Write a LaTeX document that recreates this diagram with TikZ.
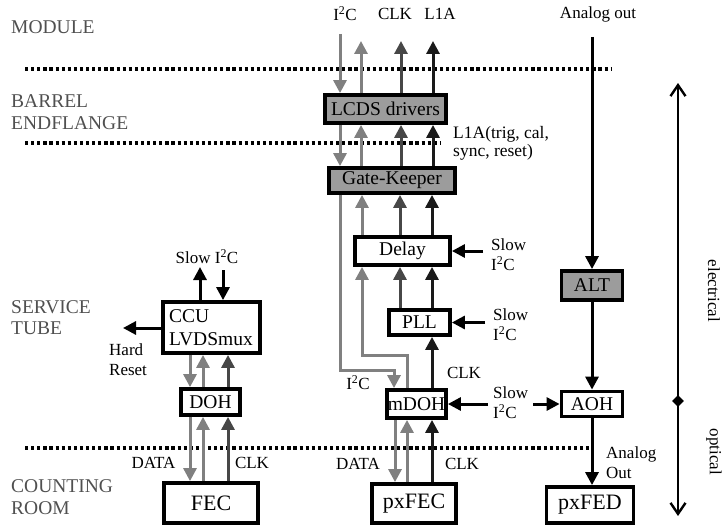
\documentclass[tikz,border=0pt]{standalone}
\usepackage{fontspec}
\setmainfont{Liberation Serif}
\usetikzlibrary{arrows.meta,shapes.geometric}
\definecolor{lg}{HTML}{808080}
\definecolor{dg}{HTML}{474747}
\definecolor{bk}{HTML}{1A1A1A}
\definecolor{boxgray}{HTML}{9C9C9C}
\definecolor{regtxt}{HTML}{505050}
\begin{document}
\begin{tikzpicture}[x=1pt,y=-1pt,
  box/.style={draw=black, line width=3.8pt, fill=white, inner sep=0pt, font=\fontsize{19.5}{23}\selectfont},
  gbox/.style={box, fill=boxgray},
  bigbox/.style={box, font=\fontsize{22}{24}\selectfont},
  ar/.style={line width=3pt, -{Triangle[length=13pt,width=13pt]}},
  lab/.style={font=\fontsize{17}{20}\selectfont, inner sep=1pt},
  smalllab/.style={font=\fontsize{17.5}{17.5}\selectfont, inner sep=1pt, align=left, anchor=west},
  region/.style={font=\fontsize{19.5}{21.5}\selectfont, text=regtxt, anchor=west, align=left, inner sep=0pt},
  dots/.style={line width=3.5pt, dash pattern=on 3.2pt off 2.9pt},
  barb/.style={line width=2.4pt, {Straight Barb[length=11pt,width=15pt]}-{Straight Barb[length=11pt,width=15pt]}},
]
\useasboundingbox (0,0) rectangle (725,527);

% region labels
\node[region] (mod) at (11,27) {MODULE};
\node[region] (bar) at (11,112) {BARREL\\ENDFLANGE};
\node[region] (svc) at (11,317.5) {SERVICE\\TUBE};
\node[region] (cnt) at (11,497) {COUNTING\\ROOM};

% dotted boundaries
\draw[dots] (25,69) -- (612,69);
\draw[dots] (25,143) -- (440,143);
\draw[dots] (25,448) -- (592,448);

% boxes
\node[gbox, minimum width=121, minimum height=28] (lcds) at (385.5,109) {LCDS drivers};
\node[gbox, minimum width=126, minimum height=25] (gk) at (392,180.5) {Gate-Keeper};
\node[box, minimum width=95, minimum height=28] (delay) at (402.5,251) {Delay};
\node[box, minimum width=61, minimum height=25] (pll) at (419.5,322.5) {PLL};
\node[box, minimum width=59, minimum height=28] (mdoh) at (416.5,404) {mDOH};
\node[bigbox, minimum width=84, minimum height=39] (pxfec) at (414,503.5) {pxFEC};
\node[box, minimum width=97, minimum height=51, align=left, text width=85, inner xsep=6pt] (ccu) at (211.5,327.5) {CCU\\LVDSmux};
\node[box, minimum width=59, minimum height=26] (doh) at (210.5,402) {DOH};
\node[bigbox, minimum width=94, minimum height=40] (fec) at (211,503) {FEC};
\node[gbox, minimum width=61, minimum height=29] (alt) at (592,285.5) {ALT};
\node[box, minimum width=61, minimum height=25] (aoh) at (592,404) {AOH};
\node[bigbox, minimum width=87, minimum height=36] (pxfed) at (590,505) {pxFED};

% top labels
\node[lab] (ti2c) at (345,14) {I\textsuperscript{2}C};
\node[lab] (tclk) at (395,14) {CLK};
\node[lab] (tl1a) at (440,14) {L1A};
\node[lab] (aout) at (598,14) {Analog out};

% column coordinates
\coordinate (tA) at (340,34);
\coordinate (tB) at (361,41);
\coordinate (tC) at (401,41);
\coordinate (tD) at (433,41);

% module <-> LCDS
\draw[ar, lg] (tA) -- (lcds.north -| tA);
\draw[ar, lg] (lcds.north -| tB) -- (tB);
\draw[ar, dg] (lcds.north -| tC) -- (tC);
\draw[ar, bk] (lcds.north -| tD) -- (tD);

% LCDS <-> Gate-Keeper
\draw[ar, lg] (lcds.south -| tA) -- (gk.north -| tA);
\draw[ar, lg] (gk.north -| tB) -- (lcds.south -| tB);
\draw[ar, dg] (gk.north -| tC) -- (lcds.south -| tC);
\draw[ar, bk] (gk.north -| tD) -- (lcds.south -| tD);
\node[smalllab] (l1a) at (452,143.5) {L1A(trig, cal,\\sync, reset)};

% Gate-Keeper -> mDOH (I2C)
\coordinate (j1) at (340,370);
\coordinate (j2) at (394,370);
\draw[ar, lg] (gk.south -| j1) -- (j1) -- (j2) -- (mdoh.north -| j2);
\node[lab] (mi2c) at (358,383) {I\textsuperscript{2}C};

% mDOH -> Delay (gray)
\coordinate (k1) at (407,355);
\coordinate (k2) at (362,355);
\draw[ar, lg] (mdoh.north -| k1) -- (k1) -- (k2) -- (delay.south -| k2);

% Delay -> Gate-Keeper
\coordinate (cC) at (400,0);
\coordinate (cD) at (432,0);
\draw[ar, lg] (delay.north -| k2) -- (gk.south -| k2);
\draw[ar, dg] (delay.north -| cC) -- (gk.south -| cC);
\draw[ar, bk] (delay.north -| cD) -- (gk.south -| cD);

% PLL -> Delay
\draw[ar, dg] (pll.north -| cC) -- (delay.south -| cC);
\draw[ar, bk] (pll.north -| cD) -- (delay.south -| cD);

% mDOH -> PLL
\draw[ar, bk] (mdoh.north -| cD) -- (pll.south -| cD);
\node[lab] (mclk) at (464,373) {CLK};

% mDOH <-> pxFEC
\coordinate (m1) at (395,0);
\coordinate (m2) at (407,0);
\draw[ar, lg] (mdoh.south -| m1) -- (pxfec.north -| m1);
\draw[ar, lg] (pxfec.north -| m2) -- (mdoh.south -| m2);
\draw[ar, bk] (pxfec.north -| cD) -- (mdoh.south -| cD);
\node[lab] (pdata) at (358,464) {DATA};
\node[lab] (pclk) at (462,464) {CLK};

% Slow I2C inputs
\node[lab, align=left, anchor=west, inner xsep=8pt] (sd) at (483,255) {Slow\\I\textsuperscript{2}C};
\draw[ar, black] (sd.west |- delay.east) -- (delay.east);
\node[lab, align=left, anchor=west, inner xsep=8pt] (sp) at (485,324.5) {Slow\\I\textsuperscript{2}C};
\draw[ar, black] (sp.west |- pll.east) -- (pll.east);
\node[lab, align=left, anchor=west, inner xsep=5pt] (sm) at (488,403) {Slow\\I\textsuperscript{2}C};
\draw[ar, black] (sm.west |- mdoh.east) -- (mdoh.east);
\draw[ar, black] (sm.east |- aoh.west) -- (aoh.west);

% analog chain
\coordinate (atop) at (592,37);
\draw[ar, black] (atop) -- (alt.north);
\draw[ar, black] (alt.south) -- (aoh.north);
\draw[ar, black] (aoh.south) -- (aoh.south |- pxfed.north);
\node[lab, align=left, anchor=west] (aout2) at (605,463) {Analog\\Out};

% left column
\node[lab] (cslow) at (207,257) {Slow I\textsuperscript{2}C};
\coordinate (s1) at (200,267);
\coordinate (s2) at (223,270);
\draw[ar, black] (ccu.north -| s1) -- (s1);
\draw[ar, black] (s2) -- (ccu.north -| s2);
\coordinate (hr) at (123,328);
\draw[ar, black] (ccu.west |- hr) -- (hr);
\node[lab, align=left, anchor=west] (hrt) at (108,360) {Hard\\Reset};

\coordinate (f1) at (190,0);
\coordinate (f2) at (203,0);
\coordinate (f3) at (228,0);
\draw[ar, lg] (ccu.south -| f1) -- (doh.north -| f1);
\draw[ar, lg] (doh.north -| f2) -- (ccu.south -| f2);
\draw[ar, dg] (doh.north -| f3) -- (ccu.south -| f3);
\draw[ar, lg] (doh.south -| f1) -- (fec.north -| f1);
\draw[ar, lg] (fec.north -| f2) -- (doh.south -| f2);
\draw[ar, dg] (fec.north -| f3) -- (doh.south -| f3);
\node[lab] (fdata) at (153.5,463) {DATA};
\node[lab] (fclk) at (252,463) {CLK};

% electrical / optical
\coordinate (eTop) at (678,83);
\coordinate (oBot) at (678,516);
\draw[barb] (eTop) -- (oBot);
\node[diamond, fill=black, minimum size=12pt, inner sep=0pt] (dm) at (678,401) {};
\node[lab, rotate=-90, inner sep=0pt] (el) at (714,291) {electrical};
\node[lab, rotate=-90, inner sep=0pt] (op) at (714,452) {optical};
\end{tikzpicture}
\end{document}
